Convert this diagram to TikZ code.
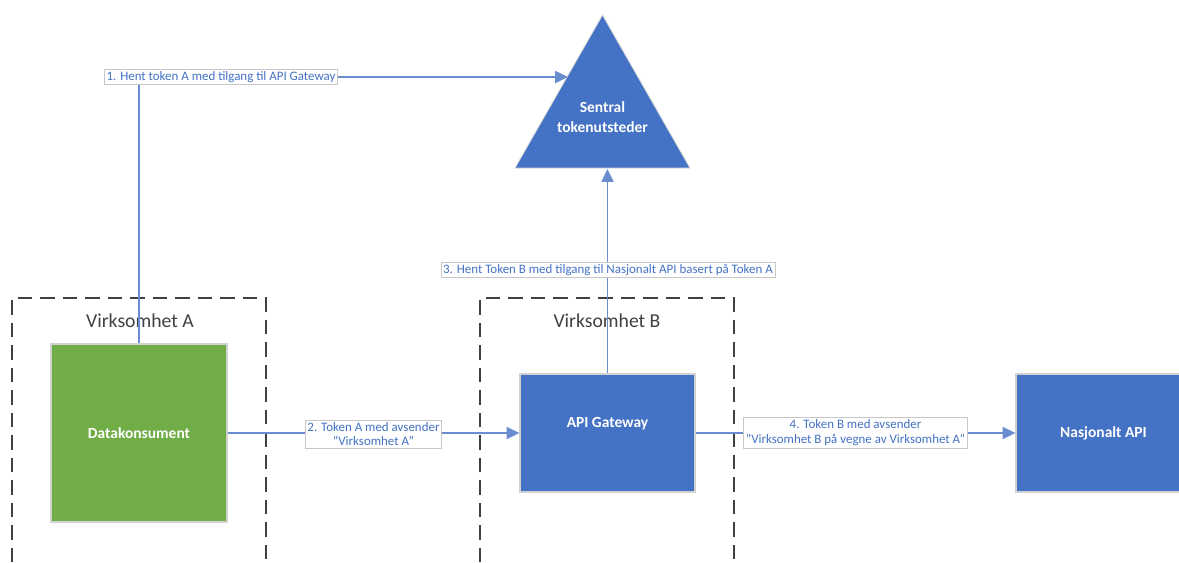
\documentclass[tikz,border=0pt]{standalone}
\usepackage{fontspec}
\setmainfont{Carlito}
\usepackage{xcolor}
\usetikzlibrary{arrows.meta}

\definecolor{unitblue}{HTML}{4472C4}
\definecolor{unitgreen}{HTML}{70AD47}
\definecolor{flowblue}{HTML}{6A8DD0}
\definecolor{framegray}{HTML}{404040}

\def\px{0.025cm}

\tikzset{
  unit/.style={draw=black!18, line width=0.8pt, minimum width=175*\px, minimum height=118*\px,
    inner sep=0pt, text=white, font=\fontsize{11}{13}\selectfont\bfseries},
  flow/.style={flowblue, line width=1.3pt, -{Triangle[length=3.2mm,width=3mm]}},
  msg/.style={draw=black!22, line width=0.5pt, fill=white, text=unitblue, align=center,
    inner xsep=1.5pt, inner ysep=1.5pt, font=\fontsize{9.2}{10.6}\selectfont},
  frame/.style={framegray, line width=1pt, dash pattern=on 10pt off 6pt},
  framelabel/.style={text=framegray, font=\fontsize{14}{16}\selectfont}
}

\begin{document}
\begin{tikzpicture}[x=\px, y=-\px]
\clip (0,0) rectangle (1179,562);

% Virksomhet A and B (open at the bottom)
\draw[frame] (12,562) -- (12,298) -- (266,298) -- (266,562);
\node[framelabel] (labA) at (140,321) {Virksomhet A};
\draw[frame] (480,562) -- (480,298) -- (734,298) -- (734,562);
\node[framelabel] (labB) at (607,321) {Virksomhet B};

% Units
\node[unit, fill=unitgreen, minimum width=176*\px, minimum height=178*\px] (dk) at (139,433) {Datakonsument};
\node[unit, fill=unitblue, label={[text=white, font=\fontsize{11}{13}\selectfont\bfseries, yshift=7pt]center:API Gateway}] (gw) at (607.5,433) {};
\node[unit, fill=unitblue] (na) at (1103.5,433) {Nasjonalt API};

% Sentral tokenutsteder
\draw[fill=unitblue, draw=black!15, line width=0.6pt] (602.5,15) -- (690,168) -- (515,168) -- cycle;
\node[text=white, align=center, font=\fontsize{11}{14}\selectfont\bfseries] (tok) at (602.5,117) {Sentral\\tokenutsteder};
\coordinate (tokin) at (568,77);
\coordinate (tokbase) at (607.5,169);

% Flows
\draw[flow] (dk.north) |- (tokin);
\draw[flow] (dk.east) -- (gw.west);
\draw[flow] (gw.north) -- (tokbase);
\draw[flow] (gw.east) -- (na.west);

% Flow labels
\node[msg] (m1) at (221,77) {1. Hent token A med tilgang til API Gateway};
\node[msg] (m2) at (373.5,434) {2. Token A med avsender\\"Virksomhet A"};
\node[msg] (m3) at (608,270) {3. Hent Token B med tilgang til Nasjonalt API basert på Token A};
\node[msg] (m4) at (855.5,433) {4. Token B med avsender\\"Virksomhet B på vegne av Virksomhet A"};
\end{tikzpicture}
\end{document}
